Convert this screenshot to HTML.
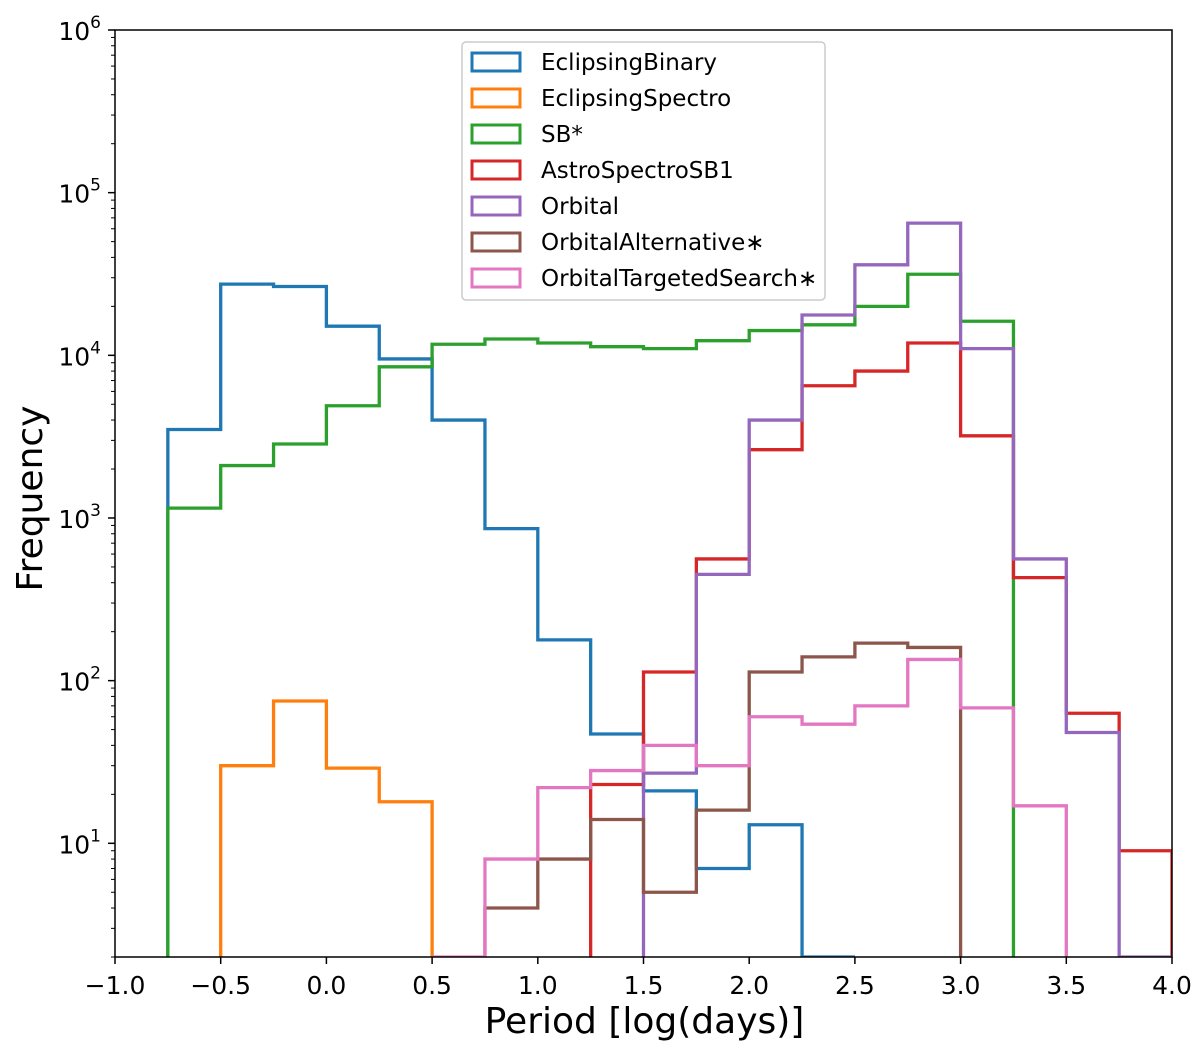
<!DOCTYPE html>
<html><head><meta charset="utf-8"><style>
body{margin:0;background:#fff;font-family:"Liberation Sans","DejaVu Sans",sans-serif}
svg text{font-family:"DejaVu Sans","Liberation Sans",sans-serif}
</style></head><body>
<svg id="chart" width="1200" height="1044" xmlns="http://www.w3.org/2000/svg"></svg>
<script>
const binStarts=[-0.75,-0.5,-0.25,0,0.25,0.5,0.75,1,1.25,1.5,1.75,2,2.25,2.5,2.75,3,3.25,3.5,3.75];
const seriesNames=["EclipsingBinary","EclipsingSpectro","SB*","AstroSpectroSB1","Orbital","OrbitalAlternative\u2217","OrbitalTargetedSearch\u2217"];
const seriesColors=["#1f77b4","#ff7f0e","#2ca02c","#d62728","#9467bd","#8c564b","#e377c2"];
const eclipsingBinary=[3500,27400,26500,15100,9500,4000,860,178,47,21,7,13,1,0,0,0,0,0,0];
const eclipsingSpectro=[0,30,75,29,18,0,0,0,0,0,0,0,0,0,0,0,0,0,0];
const sbStar=[1150,2100,2850,4900,8500,11700,12600,11900,11300,11000,12300,14200,15400,20000,31500,16200,0,0,0];
const astroSpectroSB1=[0,0,0,0,0,0,0,0,23,113,560,2630,6500,8000,11900,3200,430,63,9];
const orbital=[0,0,0,0,0,0,0,0,0,27,450,4000,17700,36000,65000,11000,560,48,1];
const orbitalAlternative=[0,0,0,0,0,0,4,8,14,5,16,113,140,170,160,0,0,0,0];
const orbitalTargeted=[0,0,0,0,0,1,8,22,28,40,30,60,54,70,135,68,17,0,0];
const allSeries=[eclipsingBinary,eclipsingSpectro,sbStar,astroSpectroSB1,orbital,orbitalAlternative,orbitalTargeted];
const xTicks=[-1,-0.5,0,0.5,1,1.5,2,2.5,3,3.5,4];
const xTickLabels=["\u22121.0","\u22120.5","0.0","0.5","1.0","1.5","2.0","2.5","3.0","3.5","4.0"];
const yDecades=[1,2,3,4,5,6];

const L=115,R=1172,T=30,B=957,YMIN=Math.log10(2),YMAX=6,BW=0.25;
const X=v=>L+(v+1)/5*(R-L);
const Y=v=>{let l=Math.log10(Math.max(v,2));return B-(l-YMIN)/(YMAX-YMIN)*(B-T);};
const svg=document.getElementById('chart');
const NS="http://www.w3.org/2000/svg";
function mk(tag,attrs,parent){const e=document.createElementNS(NS,tag);for(const k in attrs)e.setAttribute(k,attrs[k]);(parent||svg).appendChild(e);return e;}

const clip=mk('clipPath',{id:'pc'});mk('rect',{x:L,y:T,width:R-L,height:B-T},clip);
allSeries.forEach((vals,si)=>{
  let first=vals.findIndex(v=>v>0),last=vals.length-1;while(vals[last]<=0)last--;
  let d=`M${X(binStarts[first])},${B}`;
  for(let i=first;i<=last;i++){d+=` L${X(binStarts[i])},${Y(vals[i])} L${X(binStarts[i]+BW)},${Y(vals[i])}`;}
  d+=` L${X(binStarts[last]+BW)},${B}`;
  const p=mk('path',{d:d,fill:'none',stroke:seriesColors[si],'stroke-width':3.3,'clip-path':'url(#pc)'});
  
  
});

const fr=mk('rect',{x:L,y:T,width:R-L,height:B-T,fill:'none',stroke:'#000','stroke-width':1.5});



xTicks.forEach((t,i)=>{
  mk('line',{x1:X(t),x2:X(t),y1:B,y2:B+7,stroke:'#000','stroke-width':1.5});
  const tx=mk('text',{x:X(t),y:B+37,'text-anchor':'middle','font-size':25});
  tx.textContent=xTickLabels[i];
  
  
});
yDecades.forEach(d=>{
  const y=Y(Math.pow(10,d));
  mk('line',{x1:L-7,x2:L,y1:y,y2:y,stroke:'#000','stroke-width':1.5});
  const tx=mk('text',{x:L-14,y:y+10,'text-anchor':'end','font-size':25});
  tx.innerHTML='10<tspan dy="-12" font-size="17">'+d+'</tspan>';
  
  
});
for(let d=0;d<6;d++)for(let m=2;m<10;m++){const v=m*Math.pow(10,d);if(v<2)continue;const y=Y(v);
  mk('line',{x1:L-4,x2:L,y1:y,y2:y,stroke:'#000','stroke-width':1});}

const xl=mk('text',{x:(L+R)/2+1,y:1033,'text-anchor':'middle','font-size':36});xl.textContent='Period [log(days)]';


const yl=mk('text',{x:0,y:0,'text-anchor':'middle','font-size':36,transform:`translate(42,${(T+B)/2+5}) rotate(-90)`});yl.textContent='Frequency';



const lg=mk('g',{});


mk('rect',{x:462,y:42,width:363,height:258,rx:4,fill:'#fff','fill-opacity':0.8,stroke:'#ccc','stroke-width':1.5},lg);
seriesNames.forEach((n,i)=>{
  const y=62+i*36;
  const g=mk('g',{},lg);
  
  
  mk('rect',{x:472,y:y-9,width:48,height:18,fill:'none',stroke:seriesColors[i],'stroke-width':3},g);
  const t=mk('text',{x:541,y:y+8,'font-size':23},g);t.textContent=n;
});
</script>
</body></html>
